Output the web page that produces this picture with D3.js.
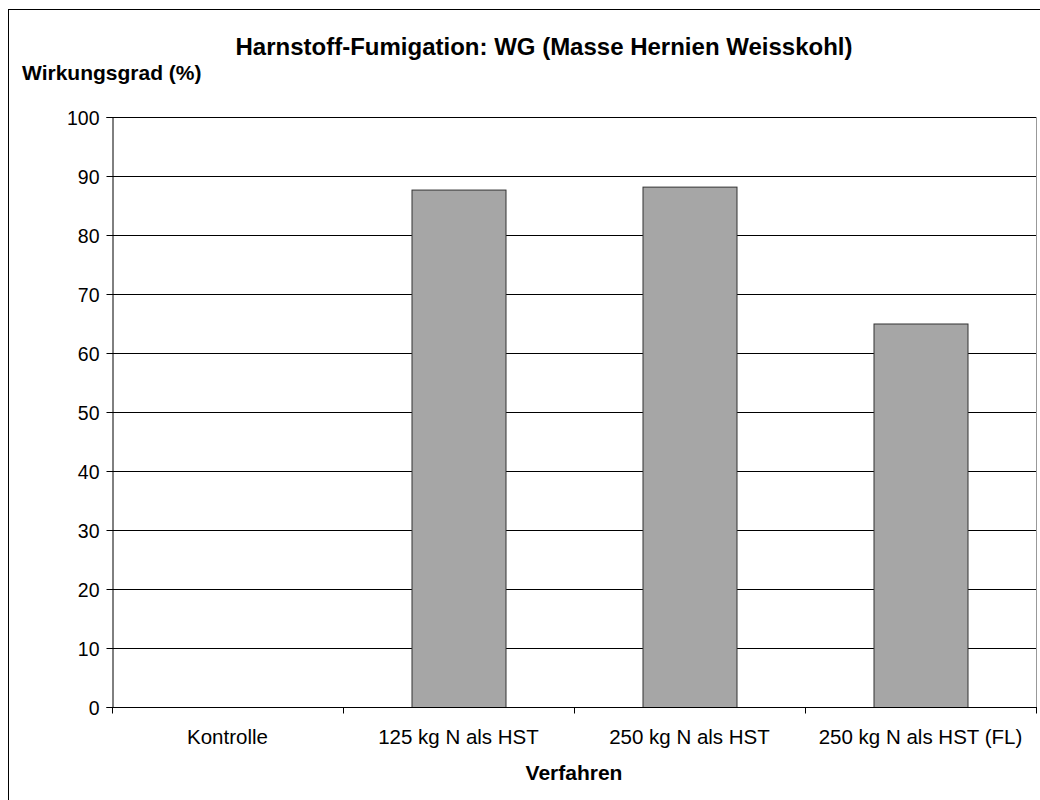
<!DOCTYPE html>
<html><head><meta charset="utf-8">
<script src="https://cdn.jsdelivr.net/npm/d3@7"></script>
<style>body{margin:0;background:#fff}svg{display:block;font-family:"Liberation Sans",Arial,sans-serif}</style>
</head><body><svg id="c" width="1040" height="800"></svg>
<script>
const categories = ["Kontrolle","125 kg N als HST","250 kg N als HST","250 kg N als HST (FL)"];
const values = [0, 87.7, 88.2, 65.0];
const yTicks = [0,10,20,30,40,50,60,70,80,90,100];
const title = "Harnstoff-Fumigation: WG (Masse Hernien Weisskohl)";
const yTitle = "Wirkungsgrad (%)";
const xTitle = "Verfahren";

const svg = d3.select("#c");
svg.append("rect").attr("x",8.5).attr("y",9.5).attr("width",1040).attr("height",800)
  .attr("fill","#fff").attr("stroke","#000").attr("stroke-width",1);

const L=112, R=1036, T=117, B=707;
const x = d3.scaleBand().domain(categories).range([L,R]).paddingInner(0).paddingOuter(0);
const y = d3.scaleLinear().domain([0,100]).range([B,T]);

const g = svg.append("g");
g.selectAll(".grid").data(yTicks.filter(d=>d>0)).join("line")
  .attr("x1",L).attr("x2",R).attr("y1",d=>Math.round(y(d))+0.5).attr("y2",d=>Math.round(y(d))+0.5)
  .attr("stroke","#000").attr("stroke-width",1);
g.append("line").attr("x1",R+0.5).attr("x2",R+0.5).attr("y1",T).attr("y2",B).attr("stroke","#999");

const bw = 94;
g.selectAll(".bar").data(categories.map((c,i)=>({c,v:values[i]})).filter(d=>d.v>0)).join("rect")
  .attr("x",d=>x(d.c)+x.bandwidth()/2-bw/2+0.5).attr("width",bw)
  .attr("y",d=>y(d.v)+0.5).attr("height",d=>y(0)-y(d.v))
  .attr("fill","#a6a6a6").attr("stroke","#333").attr("stroke-width",1);

const ya = svg.append("g").attr("transform",`translate(${L+0.5},0)`)
  .call(d3.axisLeft(y).tickValues(yTicks).tickSize(6).tickPadding(7).tickFormat(d3.format("d")));
ya.select(".domain").attr("stroke","#000");
ya.selectAll(".tick line").attr("stroke","#000");
ya.selectAll(".tick text").attr("font-size",19.5).attr("dy","0.38em").attr("fill","#000").attr("font-family","Liberation Sans, Arial, sans-serif");

const xa = svg.append("g").attr("transform",`translate(0,${B+0.5})`)
  .call(d3.axisBottom(x).tickSize(0).tickPadding(22));
xa.select(".domain").remove();
xa.append("line").attr("x1",L).attr("x2",R+1).attr("stroke","#000");
xa.selectAll(".tick text").attr("font-size",20.5).attr("fill","#000").attr("font-family","Liberation Sans, Arial, sans-serif");
const bounds = categories.map(c=>x(c)).concat([R]);
xa.selectAll(".bnd").data(bounds).join("line")
  .attr("x1",d=>Math.round(d)+0.5).attr("x2",d=>Math.round(d)+0.5).attr("y1",0).attr("y2",6).attr("stroke","#000");

svg.append("text").attr("x",544).attr("y",55).attr("text-anchor","middle")
  .attr("font-size",24).attr("font-weight","bold").text(title);
svg.append("text").attr("x",22).attr("y",80)
  .attr("font-size",21).attr("font-weight","bold").text(yTitle);
svg.append("text").attr("x",(L+R)/2).attr("y",780).attr("text-anchor","middle")
  .attr("font-size",21).attr("font-weight","bold").text(xTitle);
</script></body></html>
